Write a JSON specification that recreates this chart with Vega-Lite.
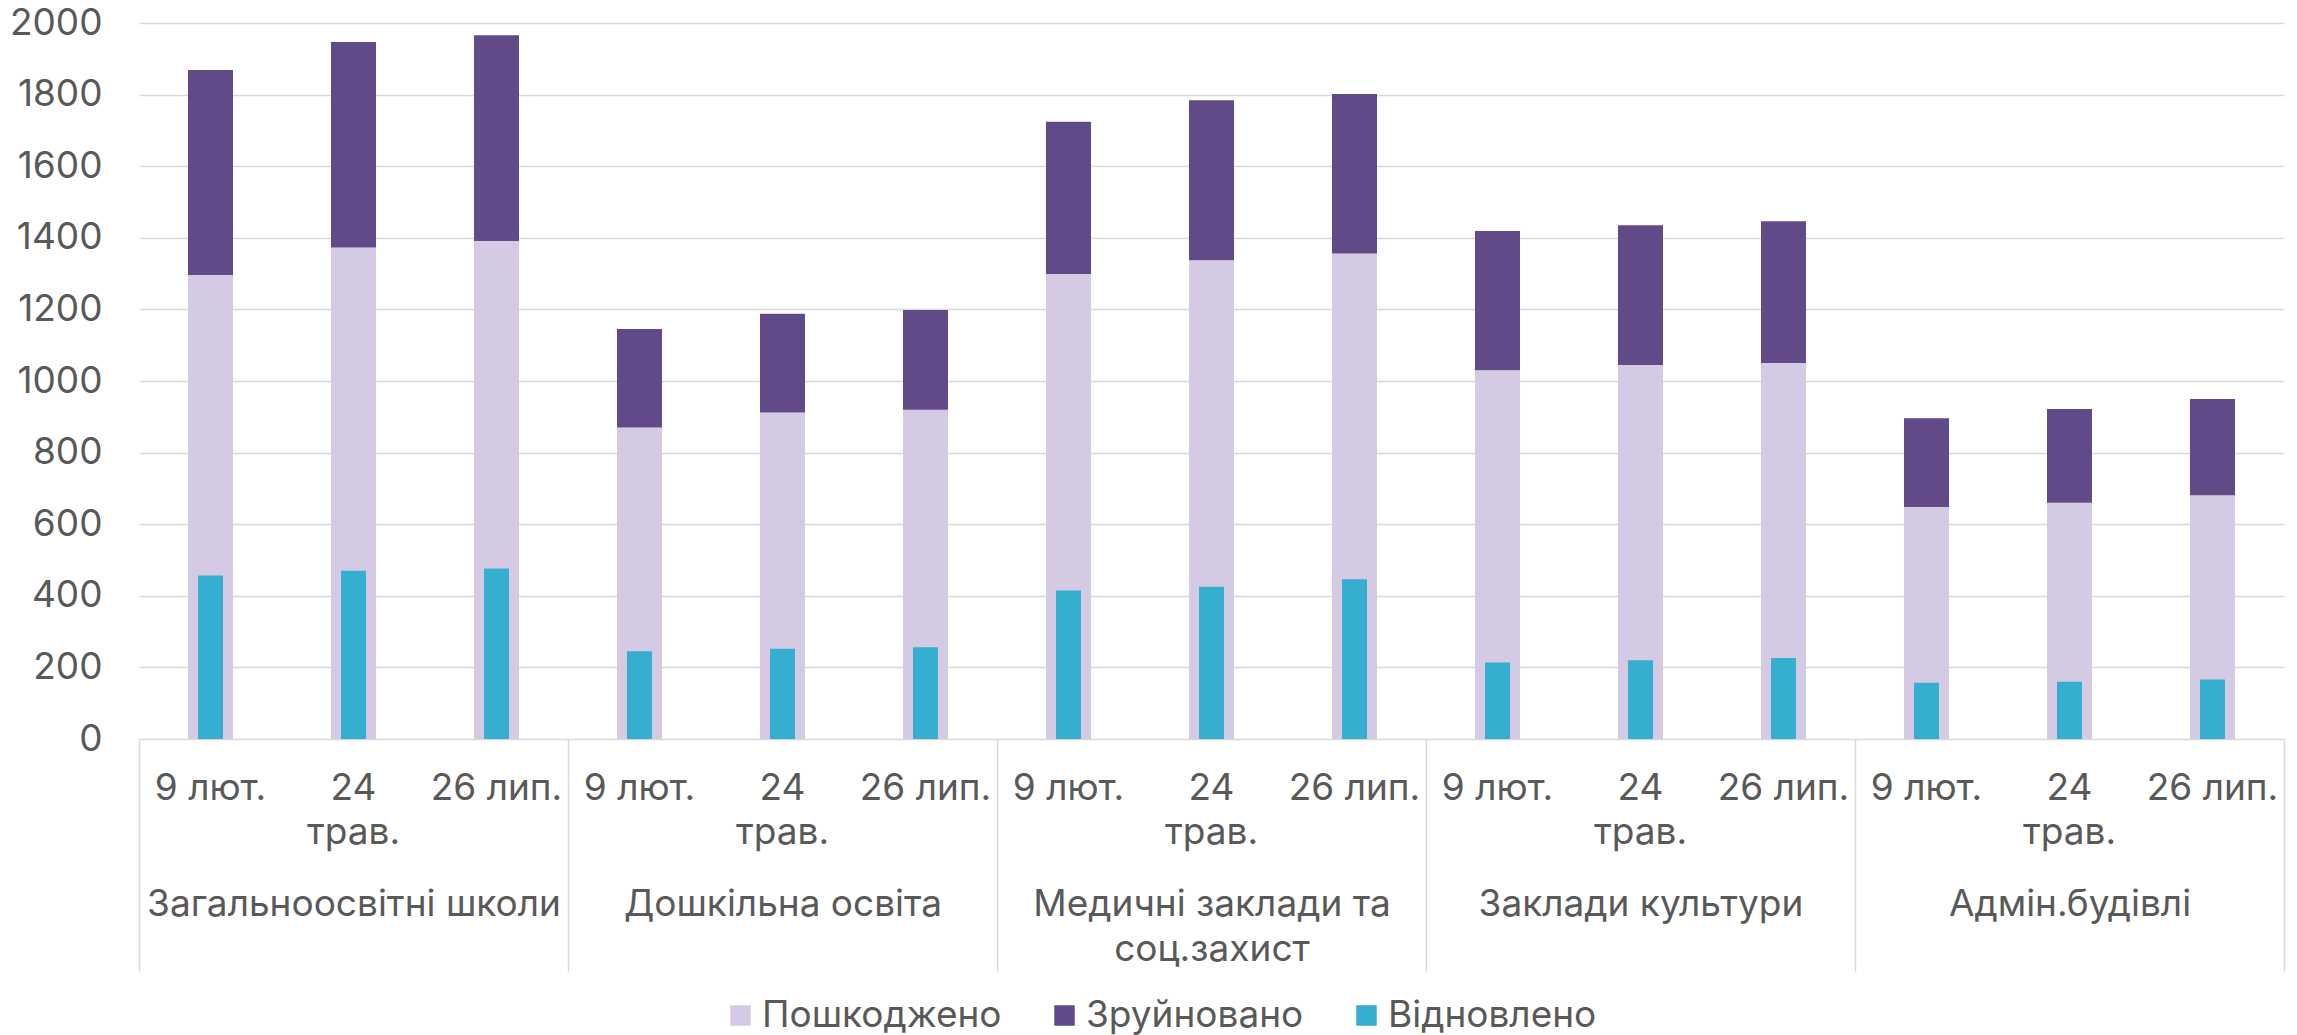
{
  "$schema": "https://vega.github.io/schema/vega-lite/v6.json",
  "width": 2145,
  "height": 716,
  "autosize": "none",
  "padding": {"left": 139, "top": 23, "right": 13, "bottom": 296},
  "config": {
    "font": "Inter",
    "view": {"stroke": null},
    "axis": {"labelFont": "Inter", "labelFontSize": 37, "labelColor": "#595959", "titleFontSize": 37},
    "legend": {"labelFont": "Inter"}
  },
  "data": {
    "values": [
      {"bar": "Загальноосвітні школи|9 лют.", "category": "Загальноосвітні школи", "date": "9 лют.", "series": "Пошкоджено", "value": 1296},
      {"bar": "Загальноосвітні школи|9 лют.", "category": "Загальноосвітні школи", "date": "9 лют.", "series": "Зруйновано", "value": 573},
      {"bar": "Загальноосвітні школи|9 лют.", "category": "Загальноосвітні школи", "date": "9 лют.", "series": "Відновлено", "value": 457},
      {"bar": "Загальноосвітні школи|24 трав.", "category": "Загальноосвітні школи", "date": "24 трав.", "series": "Пошкоджено", "value": 1373},
      {"bar": "Загальноосвітні школи|24 трав.", "category": "Загальноосвітні школи", "date": "24 трав.", "series": "Зруйновано", "value": 574},
      {"bar": "Загальноосвітні школи|24 трав.", "category": "Загальноосвітні школи", "date": "24 трав.", "series": "Відновлено", "value": 470},
      {"bar": "Загальноосвітні школи|26 лип.", "category": "Загальноосвітні школи", "date": "26 лип.", "series": "Пошкоджено", "value": 1391},
      {"bar": "Загальноосвітні школи|26 лип.", "category": "Загальноосвітні школи", "date": "26 лип.", "series": "Зруйновано", "value": 575},
      {"bar": "Загальноосвітні школи|26 лип.", "category": "Загальноосвітні школи", "date": "26 лип.", "series": "Відновлено", "value": 476},
      {"bar": "Дошкільна освіта|9 лют.", "category": "Дошкільна освіта", "date": "9 лют.", "series": "Пошкоджено", "value": 870},
      {"bar": "Дошкільна освіта|9 лют.", "category": "Дошкільна освіта", "date": "9 лют.", "series": "Зруйновано", "value": 275},
      {"bar": "Дошкільна освіта|9 лют.", "category": "Дошкільна освіта", "date": "9 лют.", "series": "Відновлено", "value": 245},
      {"bar": "Дошкільна освіта|24 трав.", "category": "Дошкільна освіта", "date": "24 трав.", "series": "Пошкоджено", "value": 912},
      {"bar": "Дошкільна освіта|24 трав.", "category": "Дошкільна освіта", "date": "24 трав.", "series": "Зруйновано", "value": 276},
      {"bar": "Дошкільна освіта|24 трав.", "category": "Дошкільна освіта", "date": "24 трав.", "series": "Відновлено", "value": 252},
      {"bar": "Дошкільна освіта|26 лип.", "category": "Дошкільна освіта", "date": "26 лип.", "series": "Пошкоджено", "value": 920},
      {"bar": "Дошкільна освіта|26 лип.", "category": "Дошкільна освіта", "date": "26 лип.", "series": "Зруйновано", "value": 278},
      {"bar": "Дошкільна освіта|26 лип.", "category": "Дошкільна освіта", "date": "26 лип.", "series": "Відновлено", "value": 256},
      {"bar": "Медичні заклади та соц.захист|9 лют.", "category": "Медичні заклади та соц.захист", "date": "9 лют.", "series": "Пошкоджено", "value": 1299},
      {"bar": "Медичні заклади та соц.захист|9 лют.", "category": "Медичні заклади та соц.захист", "date": "9 лют.", "series": "Зруйновано", "value": 425},
      {"bar": "Медичні заклади та соц.захист|9 лют.", "category": "Медичні заклади та соц.захист", "date": "9 лют.", "series": "Відновлено", "value": 415},
      {"bar": "Медичні заклади та соц.захист|24 трав.", "category": "Медичні заклади та соц.захист", "date": "24 трав.", "series": "Пошкоджено", "value": 1337},
      {"bar": "Медичні заклади та соц.захист|24 трав.", "category": "Медичні заклади та соц.захист", "date": "24 трав.", "series": "Зруйновано", "value": 447},
      {"bar": "Медичні заклади та соц.захист|24 трав.", "category": "Медичні заклади та соц.захист", "date": "24 трав.", "series": "Відновлено", "value": 425},
      {"bar": "Медичні заклади та соц.захист|26 лип.", "category": "Медичні заклади та соц.захист", "date": "26 лип.", "series": "Пошкоджено", "value": 1356},
      {"bar": "Медичні заклади та соц.захист|26 лип.", "category": "Медичні заклади та соц.захист", "date": "26 лип.", "series": "Зруйновано", "value": 446},
      {"bar": "Медичні заклади та соц.захист|26 лип.", "category": "Медичні заклади та соц.захист", "date": "26 лип.", "series": "Відновлено", "value": 446},
      {"bar": "Заклади культури|9 лют.", "category": "Заклади культури", "date": "9 лют.", "series": "Пошкоджено", "value": 1030},
      {"bar": "Заклади культури|9 лют.", "category": "Заклади культури", "date": "9 лют.", "series": "Зруйновано", "value": 389},
      {"bar": "Заклади культури|9 лют.", "category": "Заклади культури", "date": "9 лют.", "series": "Відновлено", "value": 214},
      {"bar": "Заклади культури|24 трав.", "category": "Заклади культури", "date": "24 трав.", "series": "Пошкоджено", "value": 1045},
      {"bar": "Заклади культури|24 трав.", "category": "Заклади культури", "date": "24 трав.", "series": "Зруйновано", "value": 390},
      {"bar": "Заклади культури|24 трав.", "category": "Заклади культури", "date": "24 трав.", "series": "Відновлено", "value": 220},
      {"bar": "Заклади культури|26 лип.", "category": "Заклади культури", "date": "26 лип.", "series": "Пошкоджено", "value": 1050},
      {"bar": "Заклади культури|26 лип.", "category": "Заклади культури", "date": "26 лип.", "series": "Зруйновано", "value": 396},
      {"bar": "Заклади культури|26 лип.", "category": "Заклади культури", "date": "26 лип.", "series": "Відновлено", "value": 226},
      {"bar": "Адмін.будівлі|9 лют.", "category": "Адмін.будівлі", "date": "9 лют.", "series": "Пошкоджено", "value": 648},
      {"bar": "Адмін.будівлі|9 лют.", "category": "Адмін.будівлі", "date": "9 лют.", "series": "Зруйновано", "value": 248},
      {"bar": "Адмін.будівлі|9 лют.", "category": "Адмін.будівлі", "date": "9 лют.", "series": "Відновлено", "value": 157},
      {"bar": "Адмін.будівлі|24 трав.", "category": "Адмін.будівлі", "date": "24 трав.", "series": "Пошкоджено", "value": 660},
      {"bar": "Адмін.будівлі|24 трав.", "category": "Адмін.будівлі", "date": "24 трав.", "series": "Зруйновано", "value": 262},
      {"bar": "Адмін.будівлі|24 трав.", "category": "Адмін.будівлі", "date": "24 трав.", "series": "Відновлено", "value": 160},
      {"bar": "Адмін.будівлі|26 лип.", "category": "Адмін.будівлі", "date": "26 лип.", "series": "Пошкоджено", "value": 681},
      {"bar": "Адмін.будівлі|26 лип.", "category": "Адмін.будівлі", "date": "26 лип.", "series": "Зруйновано", "value": 269},
      {"bar": "Адмін.будівлі|26 лип.", "category": "Адмін.будівлі", "date": "26 лип.", "series": "Відновлено", "value": 166}
    ]
  },
  "layer": [
    {
      "layer": [
        {
          "transform": [{"filter": "datum.series !== 'Відновлено'"}],
          "mark": {"type": "bar"},
          "encoding": {
            "x": {
              "field": "bar", "type": "nominal", "sort": null,
              "scale": {"paddingInner": 0.685, "paddingOuter": 0.3425},
              "axis": {
                "orient": "bottom", "title": null, "domain": false, "ticks": false,
                "labelAngle": 0, "labelPadding": 31, "labelLineHeight": 44, "labelOverlap": false, "labelLimit": 400,
                "labelExpr": "split(datum.label, '|')[1] == '24 трав.' ? ['24', 'трав.'] : split(datum.label, '|')[1]"
              }
            },
            "y": {
              "field": "value", "type": "quantitative", "stack": "zero",
              "scale": {"domain": [0, 2000], "nice": false},
              "axis": {
                "title": null, "domain": false, "ticks": false, "labelPadding": 37, "format": "d",
                "values": [0, 200, 400, 600, 800, 1000, 1200, 1400, 1600, 1800, 2000],
                "gridColor": "#d9d9d9", "gridWidth": 1.5
              }
            },
            "color": {
              "field": "series", "type": "nominal",
              "scale": {"domain": ["Пошкоджено", "Зруйновано", "Відновлено"], "range": ["#d4cae3", "#614a87", "#36aecf"]},
              "legend": {
                "orient": "none", "legendX": 583, "legendY": 974, "direction": "horizontal", "title": null, "padding": 0,
                "gridAlign": "none",
                "symbolType": "square", "symbolSize": 420, "symbolStrokeWidth": 0,
                "labelFontSize": 37, "labelColor": "#595959", "labelOffset": 3, "columnPadding": 44, "labelLimit": 400
              }
            },
            "order": {"field": "series", "sort": "descending"}
          }
        },
        {
          "transform": [{"filter": "datum.series === 'Відновлено'"}],
          "mark": {"type": "bar", "width": 25},
          "encoding": {
            "x": {"field": "bar", "type": "nominal", "sort": null},
            "y": {"field": "value", "type": "quantitative"},
            "color": {"field": "series", "type": "nominal"}
          }
        }
      ]
    },
    {
      "mark": {"type": "rule", "opacity": 0},
      "encoding": {
        "x": {
          "field": "category", "type": "nominal", "sort": null,
          "scale": {"paddingInner": 0, "paddingOuter": 0},
          "axis": {
            "orient": "bottom", "title": null, "domain": false, "ticks": true, "tickBand": "extent",
            "tickSize": 232, "tickColor": "#d9d9d9", "tickWidth": 1.5,
            "labelAngle": 0, "labelPadding": -85, "labelLineHeight": 45, "labelOverlap": false, "labelLimit": 600,
            "labelExpr": "datum.label == 'Медичні заклади та соц.захист' ? ['Медичні заклади та', 'соц.захист'] : datum.label"
          }
        }
      }
    }
  ],
  "resolve": {"scale": {"x": "independent"}, "axis": {"x": "independent"}}
}
